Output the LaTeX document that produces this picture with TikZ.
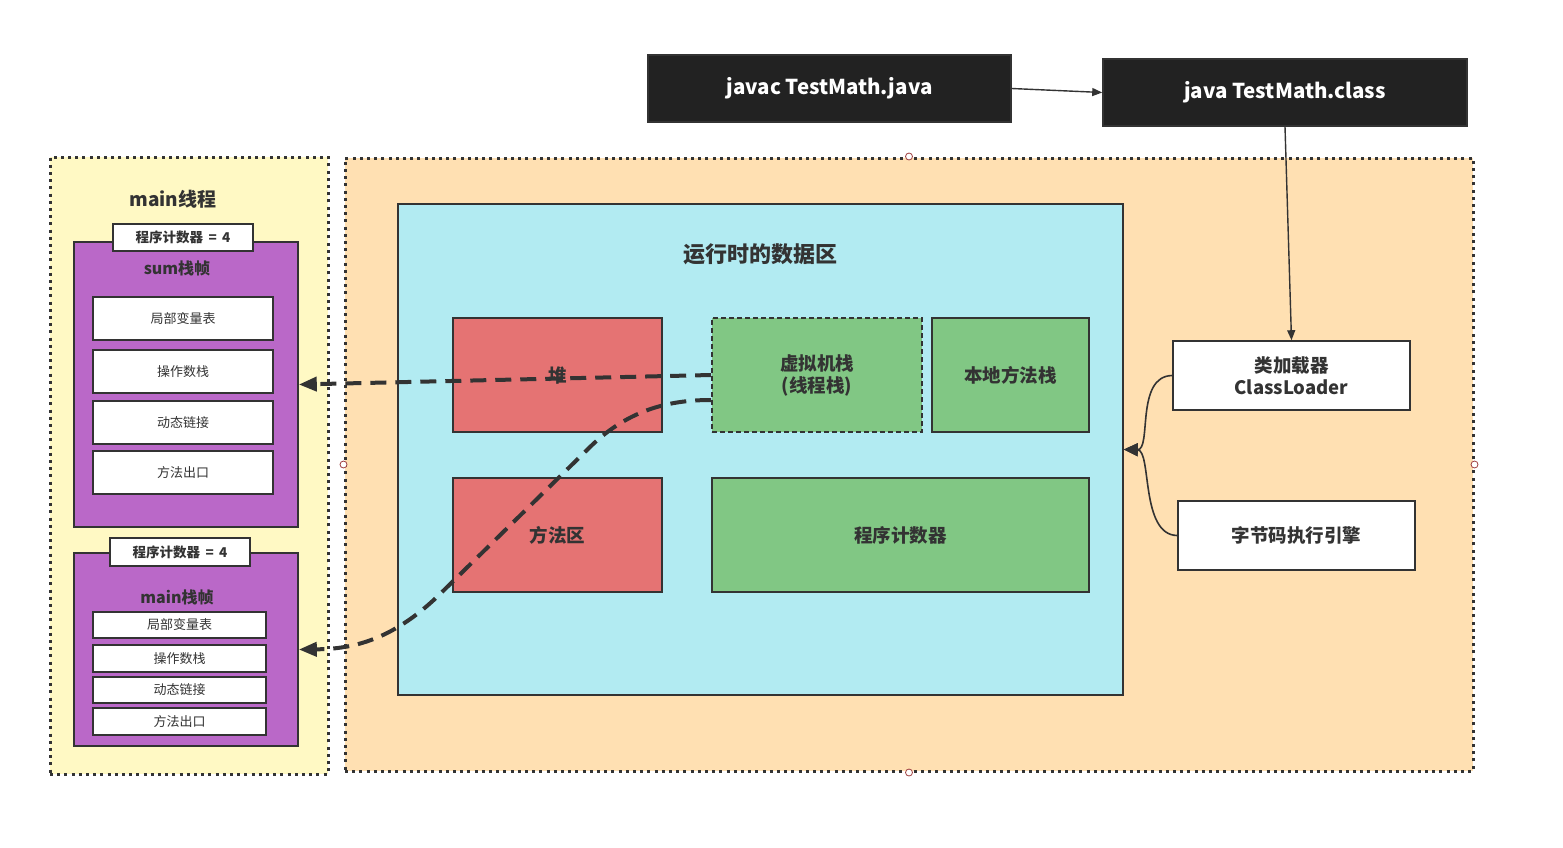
\documentclass[tikz,border=0pt]{standalone}
\usepackage{fontspec}
\setmainfont{Noto Sans CJK SC}
\usetikzlibrary{arrows.meta}
\definecolor{ink}{HTML}{333333}
\definecolor{darkbox}{HTML}{222222}
\definecolor{yellowbg}{HTML}{FFF9C4}
\definecolor{orangebg}{HTML}{FFE0B2}
\definecolor{cyanbg}{HTML}{B2EBF2}
\definecolor{redbox}{HTML}{E57373}
\definecolor{greenbox}{HTML}{81C784}
\definecolor{purplebox}{HTML}{BA68C8}
\definecolor{handle}{HTML}{A04040}
\tikzset{
  box/.style={draw=ink, line width=1.6pt, inner sep=0pt, align=center, text=ink,
    font=\bfseries\fontsize{18.5}{22}\selectfont},
  cmdbox/.style={box, fill=darkbox, text=white, font=\bfseries\fontsize{20.5}{24}\selectfont},
  framebox/.style={draw=ink, line width=3pt, dash pattern=on 3pt off 4.2pt},
  cell/.style={draw=ink, line width=1.6pt, fill=white, inner sep=0pt, text=ink,
    font=\fontsize{13}{15}\selectfont},
  tab/.style={draw=ink, line width=1.6pt, fill=white, inner sep=0pt, text=ink,
    font=\bfseries\fontsize{13.5}{15}\selectfont},
  dasharrow/.style={draw=ink, line width=4pt, dash pattern=on 16pt off 9pt,
    -{Triangle[length=18pt,width=14pt]}},
  solidarrow/.style={draw=ink, line width=1.4pt, -{Triangle[length=10pt,width=8pt]}},
  bigarrow/.style={draw=ink, line width=1.6pt, -{Triangle[length=14pt,width=13pt]}},
  handledot/.style={draw=handle, fill=white, line width=0.8pt, circle, inner sep=0pt, minimum size=7pt},
  title/.style={text=ink, font=\bfseries\fontsize{19}{22}\selectfont, inner sep=0pt}
}
\begin{document}
\begin{tikzpicture}[x=1pt,y=-1pt]
\useasboundingbox[fill=white] (0,0) rectangle (1563,847);

% frames
\node[framebox, fill=yellowbg, minimum width=278pt, minimum height=617pt, inner sep=0pt] (thread) at (189,465.5) {};
\node[framebox, fill=orangebg, minimum width=1128pt, minimum height=613pt, inner sep=0pt] (jvm) at (909,464.5) {};
\node[handledot] (h1) at (jvm.north) {};
\node[handledot] (h2) at (jvm.south) {};
\node[handledot] (h3) at (jvm.west) {};
\node[handledot] (h4) at (jvm.east) {};

% commands
\node[cmdbox, minimum width=363pt, minimum height=67pt] (javac) at (829.5,88.5) {javac TestMath.java};
\node[cmdbox, minimum width=364pt, minimum height=67pt] (java) at (1285,92.5) {java TestMath.class};

% runtime data area
\node[box, fill=cyanbg, minimum width=725pt, minimum height=491pt] (rda) at (760.5,449.5) {};
\node[title, font=\bfseries\fontsize{22}{26}\selectfont] (rdatitle) at (760,254) {运行时的数据区};
\node[box, fill=redbox, minimum width=209pt, minimum height=114pt] (heap) at (557.5,375) {堆};
\node[box, fill=greenbox, dashed, dash pattern=on 5pt off 3pt, minimum width=210pt, minimum height=114pt] (vm) at (817,375) {虚拟机栈\\(线程栈)};
\node[box, fill=greenbox, minimum width=157pt, minimum height=114pt] (native) at (1010.5,375) {本地方法栈};
\node[box, fill=redbox, minimum width=209pt, minimum height=114pt] (method) at (557.5,535) {方法区};
\node[box, fill=greenbox, minimum width=377pt, minimum height=114pt] (pc) at (900.5,535) {程序计数器};

% class loader / engine
\node[box, fill=white, minimum width=237pt, minimum height=69pt] (cl) at (1291.5,375.5) {类加载器\\ClassLoader};
\node[box, fill=white, minimum width=237pt, minimum height=69pt] (bc) at (1296.5,535.5) {字节码执行引擎};

% thread
\node[title] (ttitle) at (173,199) {main线程};
\node[box, fill=purplebox, minimum width=224pt, minimum height=285pt] (sumf) at (186,384.5) {};
\node[tab, minimum width=140pt, minimum height=27pt] (sumtab) at (183,237.5) {程序计数器 \,=\, 4};
\node[title, font=\bfseries\fontsize{16}{18}\selectfont] (sumtitle) at (177,268) {sum栈帧};
\node[cell, minimum width=180pt, minimum height=43pt] (s1) at (183,318.5) {局部变量表};
\node[cell, minimum width=180pt, minimum height=43pt] (s2) at (183,371.5) {操作数栈};
\node[cell, minimum width=180pt, minimum height=43pt] (s3) at (183,422.5) {动态链接};
\node[cell, minimum width=180pt, minimum height=43pt] (s4) at (183,472.5) {方法出口};

\node[box, fill=purplebox, minimum width=224pt, minimum height=193pt] (mainf) at (186,649.5) {};
\node[tab, minimum width=140pt, minimum height=28pt] (maintab) at (180,552) {程序计数器 \,=\, 4};
\node[title, font=\bfseries\fontsize{16}{18}\selectfont] (maintitle) at (177,597) {main栈帧};
\node[cell, minimum width=173pt, minimum height=26pt] (m1) at (179.5,625) {局部变量表};
\node[cell, minimum width=173pt, minimum height=27pt] (m2) at (179.5,658.5) {操作数栈};
\node[cell, minimum width=173pt, minimum height=26pt] (m3) at (179.5,690) {动态链接};
\node[cell, minimum width=173pt, minimum height=27pt] (m4) at (179.5,721.5) {方法出口};

% connectors
\draw[solidarrow] (javac.east) -- (java.west);
\draw[solidarrow] (java.south) -- (cl.north);
\draw[bigarrow] (cl.west) .. controls (1135,376) and (1152,450) .. (rda.east);
\draw[bigarrow] (bc.west) .. controls (1140,535) and (1152,450) .. (rda.east);
\draw[dasharrow] (vm.west) -- (sumf.east);
\draw[dasharrow] ([yshift=-25pt]vm.west) .. controls (672,400) and (630,408) .. (590,447)
  -- (440,594) .. controls (390,643) and (348,649) .. (mainf.east);
\end{tikzpicture}
\end{document}
